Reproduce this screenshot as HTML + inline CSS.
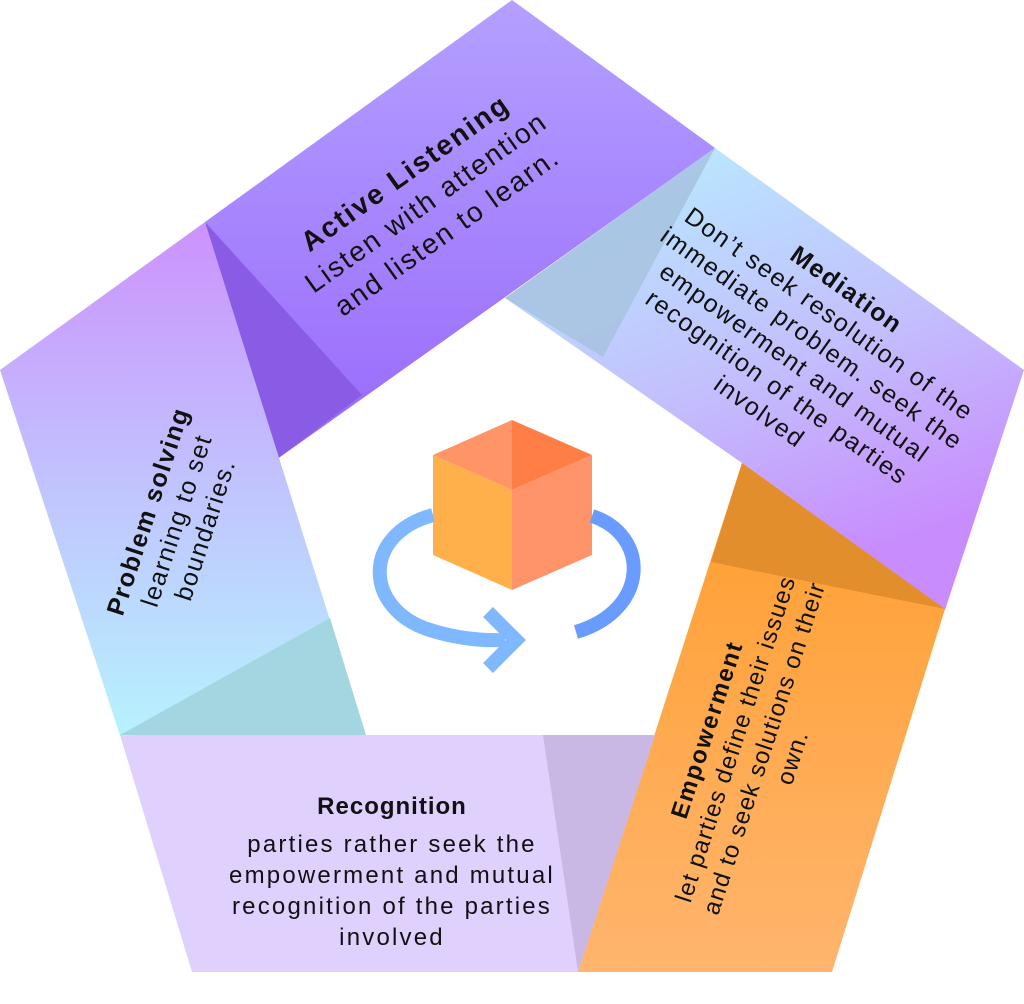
<!DOCTYPE html>
<html><head><meta charset="utf-8"><style>
html,body{margin:0;padding:0;background:#fff;}
svg{display:block;}
text{font-family:"Liberation Sans",sans-serif;fill:#111;}
.b{font-weight:bold;}
</style></head><body>
<svg width="1024" height="1004" viewBox="0 0 1024 1004" xmlns="http://www.w3.org/2000/svg">
<defs>
<linearGradient id="gA" x1="0" y1="0" x2="0" y2="1"><stop offset="0" stop-color="#b4a0ff"/><stop offset="1" stop-color="#9868fb"/></linearGradient>
<linearGradient id="gM" x1="0" y1="0" x2="0.4" y2="1"><stop offset="0" stop-color="#b6f2fe"/><stop offset="0.6" stop-color="#c3bdfd"/><stop offset="1" stop-color="#c88cfd"/></linearGradient>
<linearGradient id="gE" x1="0" y1="0" x2="0" y2="1"><stop offset="0" stop-color="#ff9d2c"/><stop offset="1" stop-color="#ffb56e"/></linearGradient>
<linearGradient id="gP" x1="0" y1="0" x2="0" y2="1"><stop offset="0" stop-color="#cc92fd"/><stop offset="1" stop-color="#b6f2fe"/></linearGradient>
</defs>
<polygon points="205,222 512,0 715,148 273,462" fill="url(#gA)"/>
<polygon points="205,222 362,395 273,462" fill="#8a5ce6"/>
<polygon points="715,148 1024,370 945,610 742,463 505,298" fill="url(#gM)"/>
<polygon points="715,148 505,298 603,357" fill="#a9c3e2" opacity="0.9"/>
<polygon points="742,463 945,609 832,972 578,972" fill="url(#gE)"/>
<polygon points="742,463 945,609 711,562" fill="#e28e2c"/>
<polygon points="120,735 655,735 578,972 192,972" fill="#e0d0fe"/>
<polygon points="543,735 655,735 578,972" fill="#c9b8e3"/>
<polygon points="0,370 205,222 366,735 120,735" fill="url(#gP)"/>
<polygon points="120,735 330,618 366,735" fill="#a4d6e2"/>

<polygon points="433,455 512,420 512,490" fill="#ff9466"/>
<polygon points="512,420 592,455 512,490" fill="#ff7e45"/>
<polygon points="433,455 512,490 512,590 433,555" fill="#ffb04a"/>
<polygon points="512,490 592,455 592,555 512,590" fill="#ff946a"/>
<path d="M433,515 C360,535 365,610 430,630 C455,638 480,641 505,640" fill="none" stroke="#7fb8ff" stroke-width="14"/>
<path d="M592,516 C650,535 650,610 576,632" fill="none" stroke="#6a9cff" stroke-width="14"/>
<polyline points="488,612 516,640 488,668" fill="none" stroke="#7fb8ff" stroke-width="14"/>

<g transform="translate(428,205) rotate(-35.5)" font-size="28" letter-spacing="2" text-anchor="middle">
<text class="b" y="-30">Active Listening</text>
<text y="6">Listen with attention</text>
<text y="42">and listen to learn.</text>
</g>
<g transform="translate(800,355) rotate(35.5)" font-size="25" letter-spacing="1.6" text-anchor="middle">
<text class="b" y="-72">Mediation</text>
<text y="-42">Don’t seek resolution of the</text>
<text y="-12">immediate problem. seek the</text>
<text y="18">empowerment and mutual</text>
<text y="48">recognition of the parties</text>
<text y="78">involved</text>
</g>
<g transform="translate(175,520) rotate(-72)" font-size="25" letter-spacing="1.5" text-anchor="middle">
<text class="b" y="-20">Problem solving</text>
<text y="10">learning to set</text>
<text y="40">boundaries.</text>
</g>
<g transform="translate(745,742) rotate(-72)" font-size="24" letter-spacing="1.2" text-anchor="middle">
<text class="b" y="-32" letter-spacing="1.8">Empowerment</text>
<text y="-2">let parties define their issues</text>
<text y="28">and to seek solutions on their</text>
<text y="58">own.</text>
</g>
<g font-size="24" letter-spacing="2.2" text-anchor="middle">
<text class="b" x="392" y="814" letter-spacing="1">Recognition</text>
<text x="392" y="852">parties rather seek the</text>
<text x="392" y="883">empowerment and mutual</text>
<text x="392" y="914">recognition of the parties</text>
<text x="392" y="945">involved</text>
</g>
</svg>
</body></html>
